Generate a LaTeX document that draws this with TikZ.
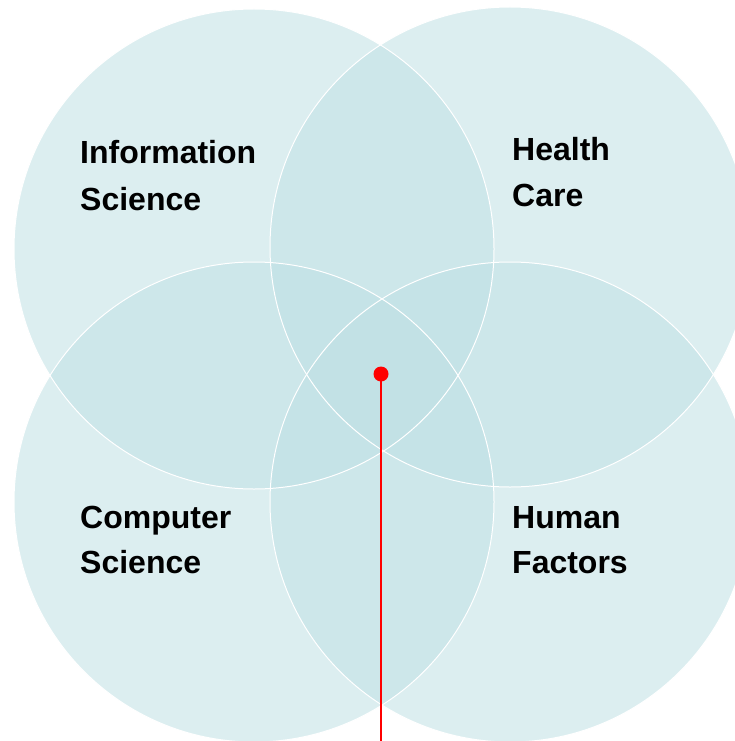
\documentclass[tikz,border=0pt]{standalone}
\usepackage{fontspec}
\setmainfont{Liberation Sans}
\definecolor{venn}{RGB}{191,224,228}
\definecolor{marker}{RGB}{255,0,0}
\begin{document}
\begin{tikzpicture}[x=1pt,y=-1pt,
  disc/.style={fill=venn,fill opacity=0.54,draw=none},
  rim/.style={draw=white,line width=1pt},
  lbl/.style={anchor=base west,inner sep=0pt,font=\fontsize{32}{32}\selectfont\bfseries,text=black}]
\useasboundingbox (0,0) rectangle (734,741);
% the four circle centres
\coordinate (cIS) at (254,249);
\coordinate (cHC) at (510,247);
\coordinate (cCS) at (254,502);
\coordinate (cHF) at (510,502);
% translucent discs
\foreach \c in {cIS,cHC,cCS,cHF}
  \fill[disc] (\c) circle (240);
% white outlines on top
\foreach \c in {cIS,cHC,cCS,cHF}
  \draw[rim] (\c) circle (240);
% field labels
\node[lbl] (is1) at (80,163) {Information};
\node[lbl] (is2) at (80,210) {Science};
\node[lbl] (hc1) at (512,160) {Health};
\node[lbl] (hc2) at (512,206) {Care};
\node[lbl] (cs1) at (80,528) {Computer};
\node[lbl] (cs2) at (80,573) {Science};
\node[lbl] (hf1) at (512,528) {Human};
\node[lbl] (hf2) at (512,573) {Factors};
% centre marker with its leader line
\node[circle,fill=marker,inner sep=0pt,minimum size=15pt] (dot) at (381,374) {};
\coordinate (foot) at (381,741);
\draw[marker,line width=2.2pt] (dot.center) -- (foot);
\end{tikzpicture}
\end{document}
